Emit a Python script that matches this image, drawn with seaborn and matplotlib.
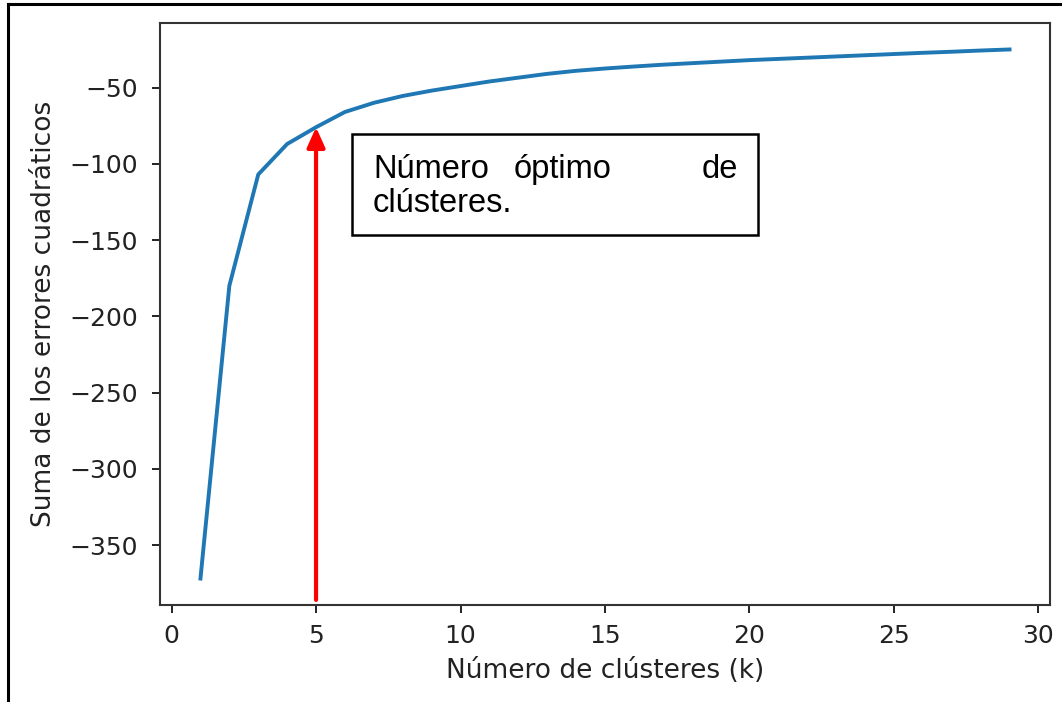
import matplotlib
matplotlib.use("Agg")
import matplotlib.pyplot as plt
import seaborn as sns
import pandas as pd
from matplotlib.lines import Line2D
from matplotlib.patches import Rectangle

# Elbow curve values
k_values = list(range(1, 30))
sse = [-372, -180, -107, -87, -76, -66, -60, -55.5, -52, -49,
       -46, -43.5, -41, -39, -37.5, -36.2, -35, -34, -33, -32,
       -31.2, -30.4, -29.6, -28.8, -28, -27.2, -26.5, -25.7, -25]
k_optimo = 5
arrow_base = -386

df = pd.DataFrame({"k": k_values, "sse": sse})

W, H = 1062, 702
fig = plt.figure(figsize=(W / 100, H / 100), dpi=100)
ax = fig.add_axes([160 / W, 1 - 605 / H, 890 / W, 582 / H])

sns.lineplot(data=df, x="k", y="sse", ax=ax, color="#1f77b4", linewidth=2.8)

ax.set_xticks([0, 5, 10, 15, 20, 25, 30])
ax.set_yticks([-350, -300, -250, -200, -150, -100, -50])
ax.set_yticklabels(["\u2212350", "\u2212300", "\u2212250", "\u2212200",
                    "\u2212150", "\u2212100", "\u221250"])
ax.tick_params(labelsize=18, length=6, width=1.4, colors="#222222")
ax.tick_params(axis="y", pad=10)
ax.tick_params(axis="x", pad=8)
for s in ax.spines.values():
    s.set_linewidth(1.5)
    s.set_color("#333333")

ax.set_xlabel("Número de clústeres (k)", fontsize=19, color="#222222", labelpad=7)
ax.set_ylabel("Suma de los errores cuadráticos", fontsize=19, color="#222222", labelpad=9)

# red arrow pointing to the elbow
y_opt = sse[k_values.index(k_optimo)]
ax.annotate("", xy=(k_optimo, y_opt), xytext=(k_optimo, arrow_base),
            arrowprops=dict(arrowstyle="-|>,head_length=0.6,head_width=0.27",
                            color="red", lw=3, mutation_scale=20,
                            shrinkA=0, shrinkB=0),
            annotation_clip=False)

# text box
fig.add_artist(Rectangle((352 / W, 1 - 235 / H), 406 / W, 101 / H,
                         transform=fig.transFigure, fill=False,
                         edgecolor="black", linewidth=1.8))
fs = 23.5
fam = "Liberation Sans"
fig.text(373 / W, 1 - 178 / H, "Número", fontsize=fs, family=fam, ha="left", va="baseline")
fig.text(563 / W, 1 - 178 / H, "óptimo", fontsize=fs, family=fam, ha="center", va="baseline")
fig.text(738 / W, 1 - 178 / H, "de", fontsize=fs, family=fam, ha="right", va="baseline")
fig.text(373 / W, 1 - 212 / H, "clústeres.", fontsize=fs, family=fam, ha="left", va="baseline")

# outer frame lines (top and left)
fig.add_artist(Line2D([8 / W, 1], [1 - 4 / H, 1 - 4 / H], transform=fig.transFigure,
                      color="black", linewidth=2.2))
fig.add_artist(Line2D([8 / W, 8 / W], [0, 1 - 4 / H], transform=fig.transFigure,
                      color="black", linewidth=2.2))

fig.savefig("out.png", dpi=100)
